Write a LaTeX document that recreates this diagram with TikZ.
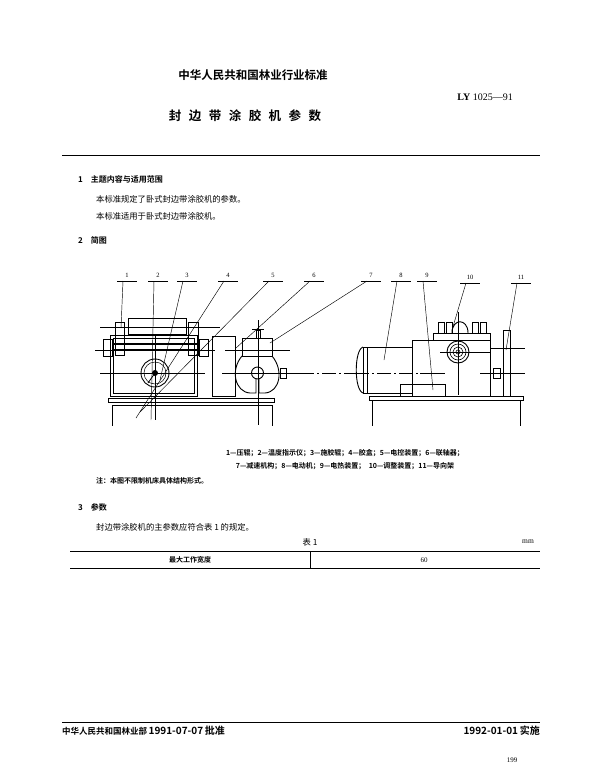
\documentclass[tikz,border=0pt]{standalone}
\usepackage{fontspec}
\setmainfont{Liberation Serif}
\newfontfamily\cjk{Noto Sans CJK SC}
\newfontfamily\cjkb{Noto Sans CJK SC Bold}
\begin{document}
\begin{tikzpicture}[x=1pt,y=-1pt,
  txt/.style={anchor=west,inner sep=0,font=\cjk\fontsize{8.3}{9}\selectfont},
  hd/.style={anchor=west,inner sep=0,font=\cjkb\fontsize{8}{9}\selectfont},
  lab/.style={inner sep=0,font=\fontsize{6.5}{7}\selectfont},
  part/.style={draw,line width=0.9pt},
  cl/.style={line width=0.4pt},
  ld/.style={line width=0.45pt}]
\useasboundingbox (0,0) rectangle (600,764);
% header
\node[inner sep=0,font=\cjkb\fontsize{11.5}{12}\selectfont] (t1) at (253,75) {中华人民共和国林业行业标准};
\node[inner sep=0,anchor=east,font=\fontsize{10}{11}\selectfont] (code) at (513,97) {\textbf{LY} 1025—91};
\node[inner sep=0,font=\cjkb\fontsize{12.5}{13}\selectfont] (t2) at (245,116) {封\hspace{0.6em}边\hspace{0.6em}带\hspace{0.6em}涂\hspace{0.6em}胶\hspace{0.6em}机\hspace{0.6em}参\hspace{0.6em}数};
\draw[line width=1pt] (62,155) -- (540,155);
\node[hd] (s1) at (78,179) {1\hspace{1em}主题内容与适用范围};
\node[txt] (p1) at (96,199) {本标准规定了卧式封边带涂胶机的参数。};
\node[txt] (p2) at (96,216) {本标准适用于卧式封边带涂胶机。};
\node[hd] (s2) at (78,240) {2\hspace{1em}简图};
% ---------- left machine ----------
\draw[part] (112,405) -- (112,426) (272,405) -- (272,426) (112,405) -- (272,405);
\draw[part] (108,398) rectangle (274,402);
\draw[part] (110,335) rectangle (197,396);
\draw[line width=0.5pt] (113,338) rectangle (194,393);
\draw[part] (155,373) circle (14);
\draw[line width=0.5pt] (155,373) circle (11);
\fill (155,373) circle (3);
\draw[line width=0.8pt] (155,373) -- (148,383);
\draw[part] (128,318) rectangle (186,334);
\draw[part] (115,322) rectangle (124,355);
\draw[part] (188,322) rectangle (198,355);
\draw[part] (103,339) rectangle (112,356);
\draw[part] (199,339) rectangle (208,356);
\draw[line width=1.5pt] (112,344) -- (200,344) (112,350) -- (200,350);
\draw[part] (212,336) rectangle (235,396);
\draw[part] (242,338) rectangle (272,356);
\draw[part] (242,356) .. controls (230,370) and (235,392) .. (250,393) -- (256,393) -- (256,378)
      (272,356) .. controls (284,370) and (280,392) .. (265,393) -- (259,393) -- (259,378);
\draw[part] (257.5,373) circle (6);
\draw[part] (256,330) rectangle (260,338);
\draw[part] (252,329) -- (264,329);
\draw[part] (280,368) rectangle (286,378);
\draw[cl] (100,327) -- (220,327) (95,350) -- (215,350) (100,373) -- (205,373)
  (225,350) -- (290,350) (222,373) -- (300,373) (155,335) -- (155,420) (258,320) -- (258,425);
\draw[cl,dash pattern=on 14pt off 3pt on 2pt off 3pt] (300,373) -- (355,373);
% ---------- right machine ----------
\draw[part] (372,400) -- (372,426) (520,400) -- (520,426);
\draw[part] (369,396) rectangle (523,400);
\draw[part] (363,347) rectangle (412,393);
\draw[part] (363,347) .. controls (354,350) and (354,390) .. (363,393);
\draw[line width=0.5pt] (367,347) -- (367,393);
\draw[part] (412,340) rectangle (490,396);
\draw[part] (433,333) rectangle (490,340);
\draw[part] (400,384) rectangle (445,396);
\foreach \x in {438,446,472,480}{\draw[part] (\x,322) rectangle (\x+6,333);}
\draw[part] (452,333) .. controls (452,318) and (468,318) .. (468,333);
\draw[part] (458,352) circle (11);
\draw[line width=0.6pt] (458,352) circle (8) (458,352) circle (5) (458,352) circle (2);
\draw[part] (503,330) rectangle (510,396);
\draw[part] (493,368) rectangle (500,378);
\draw[cl] (440,352) -- (490,352) (458,312) -- (458,395) (480,373) -- (525,373)
  (490,348) -- (525,348) (420,373) -- (445,373);
\draw[cl,dash pattern=on 14pt off 3pt on 2pt off 3pt] (355,373) -- (420,373);
% ---------- leaders ----------
\foreach \n/\x/\y/\tx/\ty in {1/127/275/121/328, 2/158/275/151/420, 3/187/275/160/380,
   4/228/275/136/418, 5/273/275/140/412, 6/314/275/236/348, 7/371/275/270/343,
   8/401/275/384/360, 9/427/275/433/390, 10/470/277/452/330, 11/521/277/506/350}{
  \node[lab] (L\n) at (\x,\y) {\n};
  \draw[ld] (\x-10,\y+6) -- (\x+10,\y+6);
  \draw[ld] (\x-4,\y+6) -- (\tx,\ty);
}
% ---------- captions ----------
\node[inner sep=0,font=\cjkb\fontsize{7}{8}\selectfont] (c1) at (345,453) {1—压辊；2—温度指示仪；3—施胶辊；4—胶盒；5—电控装置；6—联轴器；};
\node[inner sep=0,font=\cjkb\fontsize{7}{8}\selectfont] (c2) at (345,466) {7—减速机构；8—电动机；9—电热装置；\hspace{0.5em}10—调整装置；11—导向架};
\node[anchor=west,inner sep=0,font=\cjkb\fontsize{7}{8}\selectfont] (c3) at (96,481) {注：本图不限制机床具体结构形式。};
\node[hd] (s3) at (78,507) {3\hspace{1em}参数};
\node[txt] (p3) at (96,527) {封边带涂胶机的主参数应符合表 1 的规定。};
\node[inner sep=0,font=\cjk\fontsize{8.3}{9}\selectfont] (tb) at (310,542) {表 1};
\node[inner sep=0,font=\fontsize{7.5}{8}\selectfont] (mm) at (528,542) {mm};
\draw[line width=0.8pt] (70,551) -- (540,551) (70,568) -- (540,568);
\draw[line width=0.5pt] (310,551) -- (310,568);
\node[inner sep=0,font=\cjkb\fontsize{7}{8}\selectfont] (r1) at (190,560) {最大工作宽度};
\node[inner sep=0,font=\fontsize{7}{8}\selectfont] (r2) at (424,560) {60};
% footer
\draw[line width=1pt] (62,722) -- (540,722);
\node[anchor=west,inner sep=0,font=\cjkb\fontsize{8.5}{9}\selectfont] (f1) at (62,731) {中华人民共和国林业部\,\fontsize{10}{10}\selectfont 1991-07-07\,批准};
\node[anchor=east,inner sep=0,font=\cjkb\fontsize{8.5}{9}\selectfont] (f2) at (540,731) {\fontsize{10}{10}\selectfont 1992-01-01\,实施};
\node[inner sep=0,font=\fontsize{7}{8}\selectfont] (pg) at (512,760) {199};
\end{tikzpicture}
\end{document}
